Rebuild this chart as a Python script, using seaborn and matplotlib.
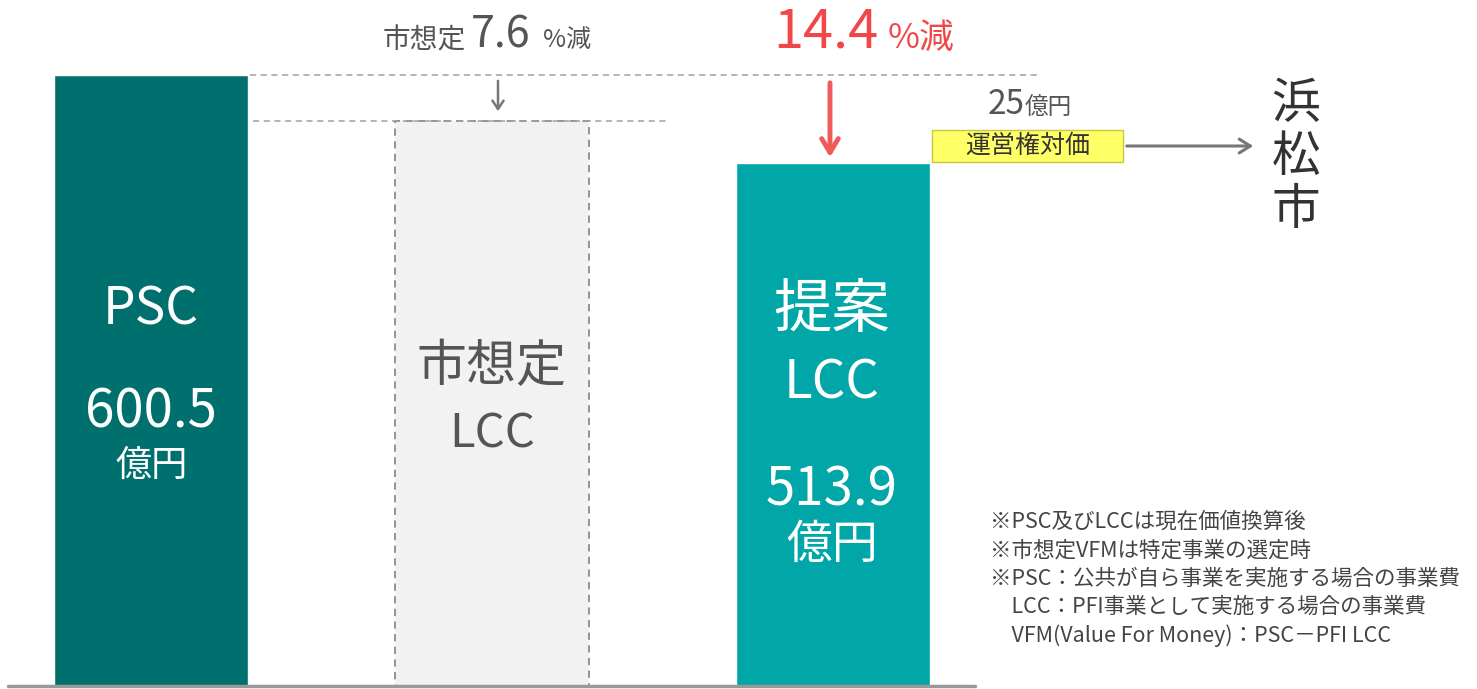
import matplotlib
matplotlib.use("Agg")
import matplotlib.pyplot as plt
import seaborn as sns
import pandas as pd

sns.set_theme(style="white")
plt.rcParams['font.family'] = ['Noto Sans CJK JP', 'DejaVu Sans']

# data
categories = ['PSC', '市想定LCC', '提案LCC']
values = [600.5, 554.9, 513.9]
colors = ['#00706e', '#f2f2f2', '#00a6a8']
reduction_city = 7.6
reduction_prop = 14.4
concession_fee = 25
notes = [
    '※PSC及びLCCは現在価値換算後',
    '※市想定VFMは特定事業の選定時',
    '※PSC：公共が自ら事業を実施する場合の事業費',
    '　LCC：PFI事業として実施する場合の事業費',
    '　VFM(Value For Money)：PSC－PFI LCC',
]

W, H = 1477, 689
fig = plt.figure(figsize=(W / 100, H / 100), dpi=100)
ax = fig.add_axes([0, 0, 1, 1])

df = pd.DataFrame({'cat': categories, 'val': values})
sns.barplot(data=df, x='cat', y='val', hue='cat', palette=colors,
            width=0.57, legend=False, ax=ax, saturation=1)

# pixel mapping: bar centres at 151 + 341*i, baseline at 686 px, 600.5 at 75 px
ax.set_xlim(-151 / 341, (W - 151) / 341)
ppu = (686 - 75) / values[0]
ax.set_ylim(-(H - 686) / ppu, 686 / ppu)
ax.axis('off')

mid = ax.patches[1]
mid.set_edgecolor('#8c8c8c')
mid.set_linestyle((0, (4, 3)))
mid.set_linewidth(1.3)


def fx(px):
    return px / W


def fy(py):
    return 1 - py / H


# baseline
fig.add_artist(plt.Line2D([fx(8), fx(975)], [fy(686), fy(686)], color='#999999', lw=2.5))

# dashed guide lines
ax.plot([0.29, 2.6], [values[0], values[0]], ls=(0, (4, 3)), color='#a0a0a0', lw=1.1)
ax.plot([0.30, 1.51], [values[1], values[1]], ls=(0, (4, 3)), color='#a0a0a0', lw=1.1)

# bar labels
fig.text(fx(151), fy(310), 'PSC', color='white', fontsize=37, ha='center', va='center')
fig.text(fx(151), fy(412), f'{values[0]}', color='white', fontsize=38, ha='center', va='center')
fig.text(fx(151), fy(466), '億円', color='white', fontsize=26, ha='center', va='center')

fig.text(fx(492), fy(367), '市想定', color='#555555', fontsize=36, ha='center', va='center')
fig.text(fx(492), fy(434), 'LCC', color='#555555', fontsize=34, ha='center', va='center')

fig.text(fx(832), fy(310), '提案', color='white', fontsize=42, ha='center', va='center')
fig.text(fx(832), fy(383), 'LCC', color='white', fontsize=38, ha='center', va='center')
fig.text(fx(832), fy(490), f'{values[2]}', color='white', fontsize=38, ha='center', va='center')
fig.text(fx(832), fy(545), '億円', color='white', fontsize=33, ha='center', va='center')

# reduction labels
fig.text(fx(466), fy(40), '市想定', color='#555555', fontsize=20, ha='right', va='center')
fig.text(fx(471), fy(35), f'{reduction_city}', color='#555555', fontsize=31, ha='left', va='center')
fig.text(fx(543), fy(40), '%減', color='#555555', fontsize=18, ha='left', va='center')

fig.text(fx(773), fy(32), f'{reduction_prop}', color='#f04848', fontsize=39, ha='left', va='center')
fig.text(fx(888), fy(38), '%減', color='#f04848', fontsize=25, ha='left', va='center')

# arrows
fig.add_artist(matplotlib.patches.FancyArrowPatch(
    (fx(498), fy(78)), (fx(498), fy(114)), transform=fig.transFigure,
    arrowstyle='->,head_length=6,head_width=4', color='#777777', lw=1.8))
fig.add_artist(matplotlib.patches.FancyArrowPatch(
    (fx(830), fy(80)), (fx(830), fy(160)), transform=fig.transFigure,
    arrowstyle='->,head_length=10,head_width=6', color='#f05a5a', lw=3.5))
fig.add_artist(matplotlib.patches.FancyArrowPatch(
    (fx(1124), fy(146)), (fx(1256), fy(146)), transform=fig.transFigure,
    arrowstyle='->,head_length=8,head_width=5', color='#777777', lw=2.2))

# concession box
fig.add_artist(matplotlib.patches.Rectangle(
    (fx(932), fy(162)), fx(1123) - fx(932), fy(130) - fy(162),
    transform=fig.transFigure, facecolor='#ffff66', edgecolor='#c8c83c', lw=1))
fig.text(fx(1028), fy(146), '運営権対価', color='#333333', fontsize=18, ha='center', va='center')
fig.text(fx(1025), fy(105), f'{concession_fee}', color='#555555', fontsize=24, ha='right', va='center')
fig.text(fx(1025), fy(108), '億円', color='#555555', fontsize=17, ha='left', va='center')

# city
for i, ch in enumerate('浜松市'):
    fig.text(fx(1296), fy(104 + 53 * i), ch, color='#333333', fontsize=35, ha='center', va='center')

# notes
for i, line in enumerate(notes):
    fig.text(fx(990), fy(522 + 28.3 * i), line, color='#444444', fontsize=15.5, ha='left', va='center')

fig.savefig('out.png', dpi=100)
